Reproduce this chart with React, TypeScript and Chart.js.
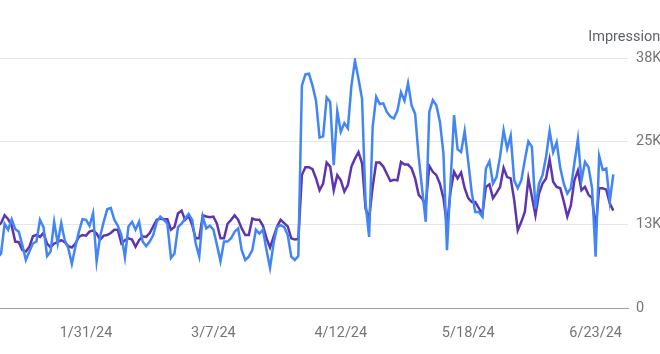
import React, { useEffect, useRef } from "react";
import { Chart, registerables } from "chart.js";

Chart.register(...registerables);

// Daily values, first index = 2024-01-06
const startDate = "2024-01-06";
const tickIndexes = [25, 61, 97, 133, 169];
const tickLabels = ["1/31/24", "3/7/24", "4/12/24", "5/18/24", "6/23/24"];
const yTicks = [0, 12667, 25333, 38000];
const yTickLabels = ["0", "13K", "25K", "38K"];
const axisTitle = "Impressions";

const blueSeries = [
  7600,
  8300, 12800, 11900, 13500, 12000, 11600, 9600, 7300, 8600, 9800,
  10100, 13400, 12300, 7900, 8600, 13100, 9800, 12900, 10300, 9100,
  6700, 9300, 11600, 13500, 13400, 12500, 14400, 7100, 10900, 13100,
  15000, 15200, 13400, 12500, 11100, 7700, 12400, 13100, 11900, 13100,
  10100, 9400, 10100, 11100, 13100, 13900, 13400, 12800, 7600, 8300,
  12300, 12800, 13600, 14300, 13400, 9800, 7800, 13900, 12100, 12500,
  11900, 9600, 7100, 10100, 10100, 10600, 11600, 12100, 8800, 7300,
  7800, 8800, 11900, 11300, 11900, 8800, 6100, 9800, 12300, 12600,
  12300, 11100, 7800, 7300, 7900,
  33800, 35500, 35600, 33800, 31500, 25900, 26100, 32000, 31300, 21700,
  29900, 26800, 28100, 27300, 33800, 37600, 34800, 31800, 15900, 10800,
  27500, 32100, 31000, 31100, 29800, 29100, 28800, 30000, 32800, 31500,
  34200, 30800, 29500, 23000, 18000, 13100, 29800, 31600, 30800, 28300,
  23500, 8800, 19000, 29300, 24100,
  23700, 26900, 22300, 17500, 14600, 14600, 13900, 21200, 22300, 18900,
  19900, 23000, 27000, 24200, 26200, 19400, 18200, 19400, 22500, 25300,
  24500, 15100, 18900, 20200, 23000, 26900, 23700, 25200, 21300, 18900,
  17400, 18200, 22000, 25700, 19400, 22200, 21400, 18200, 7800, 23100,
  21000, 21200, 16200, 20300,
];

const purpleSeries = [
  12400,
  12900, 14100, 13500, 12500, 10100, 10000, 8800, 8600, 9300, 10900,
  11100, 10800, 11400, 9800, 9200, 9800, 10000, 10300, 10000, 9400,
  9200, 9800, 10800, 11100, 11000, 11600, 11800, 11300, 10400, 11000,
  11100, 11400, 11900, 11900, 9800, 10300, 10600, 10400, 9300, 10300,
  10900, 10800, 11400, 12400, 13400, 13600, 13500, 13500, 11900, 12300,
  14400, 14800, 13400, 14000, 12600, 10600, 10600, 14100, 13900, 13800,
  13900, 12800, 10600, 10600, 12800, 13400, 14100, 13400, 12100, 11100,
  11100, 13600, 13400, 13400, 12500, 10600, 9200, 10800, 12400, 13400,
  12900, 12400, 10600, 10400, 10500,
  20200, 21400, 21400, 21100, 19700, 17900, 18900, 22100, 21500, 17900,
  20200, 19400, 17700, 18700, 21500, 22700, 23700, 22000, 15100, 13600,
  18400, 22100, 22100, 21500, 20400, 19300, 19500, 19400, 22200, 21800,
  21800, 21200, 19700, 17200, 16600, 15600, 21600, 20700, 20200, 18900,
  16700, 12500, 17700, 20700, 19700,
  20600, 18200, 16700, 16100, 16100, 15200, 14200, 18400, 18800, 16700,
  17500, 18400, 21300, 19900, 19700, 16400, 11800, 13100, 14600, 19700,
  16900, 14100, 17400, 18900, 19700, 22600, 19200, 18400, 18200, 16200,
  13900, 15600, 19400, 20900, 17900, 18400, 17200, 16700, 12000, 18200,
  18200, 18000, 15900, 14800,
];

const BLUE = "#4285f4";
const PURPLE = "#5e35b1";
const GRID = "#e6e6e6";
const AXIS = "#9e9e9e";
const LABEL = "#757575";
const FONT = "Roboto";

const axisTitlePlugin = {
  id: "axisTitle",
  afterDraw(chart: any) {
    const { ctx, chartArea } = chart;
    ctx.save();
    ctx.font = `14.5px ${FONT}`;
    ctx.fillStyle = "#5f6368";
    ctx.textAlign = "center";
    ctx.textBaseline = "alphabetic";
    ctx.fillText(axisTitle, chartArea.right, chartArea.top - 17);
    ctx.restore();
  },
};

export default function App() {
  const canvasRef = useRef<HTMLCanvasElement | null>(null);

  useEffect(() => {
    const canvas = canvasRef.current;
    if (!canvas) return;
    const toPoints = (arr: number[]) => arr.map((v, i) => ({ x: i, y: v }));
    const chart = new Chart(canvas, {
      type: "line",
      data: {
        datasets: [
          {
            label: "Series A (" + startDate + ")",
            data: toPoints(blueSeries),
            borderColor: BLUE,
            borderWidth: 2.5,
            pointRadius: 0,
            tension: 0,
            fill: false,
          },
          {
            label: "Series B",
            data: toPoints(purpleSeries),
            borderColor: PURPLE,
            borderWidth: 2.5,
            pointRadius: 0,
            tension: 0,
            fill: false,
          },
        ],
      },
      options: {
        animation: false,
        responsive: false,
        devicePixelRatio: 1,
        layout: { padding: { top: 58, left: 0, right: 0, bottom: 0 } },
        plugins: {
          legend: { display: false },
          tooltip: { enabled: false },
          title: { display: false },
        },
        scales: {
          x: {
            type: "linear",
            min: 0.7,
            max: 178.15,
            grid: { display: false, drawTicks: false },
            border: { display: true, color: AXIS, width: 1 },
            afterBuildTicks: (scale: any) => {
              scale.ticks = tickIndexes.map((v) => ({ value: v }));
            },
            afterFit: (scale: any) => {
              scale.height = 46;
            },
            ticks: {
              autoSkip: false,
              maxRotation: 0,
              padding: 17,
              color: LABEL,
              font: { family: FONT, size: 14.5 },
              callback: (v: any) => {
                const idx = tickIndexes.indexOf(Number(v));
                return idx >= 0 ? tickLabels[idx] : "";
              },
            },
          },
          y: {
            type: "linear",
            position: "right",
            min: 0,
            max: 38000,
            grid: {
              drawTicks: false,
              color: (ctx: any) => (ctx.tick && ctx.tick.value === 0 ? AXIS : GRID),
              lineWidth: 1,
            },
            border: { display: false },
            afterBuildTicks: (scale: any) => {
              scale.ticks = yTicks.map((v) => ({ value: v }));
            },
            afterFit: (scale: any) => {
              scale.width = 32;
            },
            ticks: {
              padding: 8,
              color: LABEL,
              font: { family: FONT, size: 14.5 },
              callback: (v: any) => {
                const idx = yTicks.indexOf(Number(v));
                return idx >= 0 ? yTickLabels[idx] : "";
              },
            },
          },
        },
      },
      plugins: [axisTitlePlugin],
    } as any);
    return () => chart.destroy();
  }, []);

  return (
    <div
      style={{
        position: "absolute",
        left: 0,
        top: 0,
        width: 660,
        height: 354,
        overflow: "hidden",
        background: "#fff",
      }}
    >
      <canvas ref={canvasRef} width={660} height={354} />
    </div>
  );
}
